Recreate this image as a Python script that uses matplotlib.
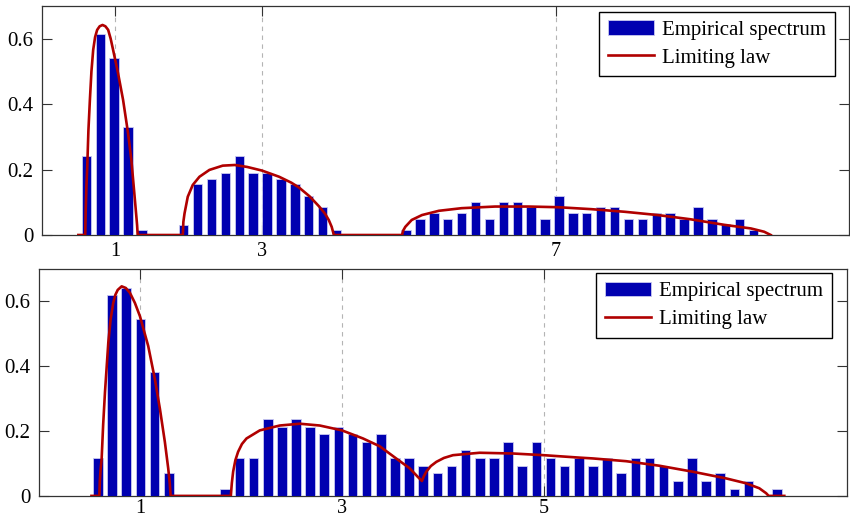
import numpy as np
import matplotlib.pyplot as plt

plt.rcParams['font.family'] = ['Liberation Serif', 'DejaVu Serif']

# ---- upper panel data ----
top_bin_start = 0.609
top_bin_width = 0.1893
top_heights = [0.242, 0.613, 0.542, 0.331, 0.015, 0.0, 0.0,
               0.031, 0.155, 0.171, 0.190, 0.242, 0.190, 0.189, 0.172, 0.155, 0.119, 0.085, 0.015,
               0.0, 0.0, 0.0, 0.0,
               0.015, 0.050, 0.066, 0.050, 0.066, 0.102, 0.050, 0.102, 0.102, 0.085, 0.050,
               0.119, 0.067, 0.067, 0.085, 0.085, 0.050, 0.050, 0.067, 0.067, 0.050, 0.085,
               0.050, 0.033, 0.050, 0.015]
top_law_x = [0.50, 0.593, 0.600, 0.610, 0.621, 0.637, 0.657, 0.678, 0.702, 0.728, 0.756,
             0.79, 0.829, 0.868, 0.906, 0.940, 0.973, 1.041,
             1.109, 1.177, 1.222, 1.258, 1.290, 1.300, 1.308,
             1.923, 1.930, 1.946, 1.99, 2.058, 2.149, 2.285, 2.466, 2.63, 2.80, 3.0, 3.235, 3.40,
             3.506, 3.65, 3.78, 3.86, 3.91, 3.95, 3.98,
             4.908, 4.925, 4.953, 5.04, 5.18, 5.41, 5.72, 6.175, 6.63, 7.03, 7.486, 7.94,
             8.39, 8.84, 9.30, 9.66, 9.84, 9.93]
top_law_y = [0.0, 0.0, 0.075, 0.150, 0.209, 0.320, 0.413, 0.500, 0.566, 0.605, 0.627,
             0.638, 0.642, 0.638, 0.627, 0.600, 0.566, 0.494,
             0.413, 0.311, 0.229, 0.138, 0.056, 0.030, 0.0,
             0.0, 0.040, 0.066, 0.117, 0.153, 0.178, 0.199, 0.212, 0.214, 0.208, 0.197, 0.178, 0.160,
             0.145, 0.118, 0.087, 0.065, 0.046, 0.025, 0.0,
             0.0, 0.014, 0.025, 0.046, 0.061, 0.074, 0.082, 0.087, 0.087, 0.085, 0.079, 0.071,
             0.061, 0.048, 0.031, 0.020, 0.010, 0.0]
top_xticks = [1, 3, 7]

# ---- lower panel data ----
bot_bin_start = 0.585
bot_bin_width = 0.140
bot_heights = [0.1175, 0.618, 0.642, 0.546, 0.381, 0.0695, 0.0, 0.0, 0.0,
               0.0226, 0.1175, 0.1175, 0.237, 0.212, 0.237, 0.212, 0.190, 0.212, 0.190,
               0.166, 0.190, 0.1175, 0.1175, 0.093, 0.0695, 0.093, 0.141, 0.1175, 0.1175,
               0.166, 0.093, 0.166, 0.1175, 0.093, 0.1175, 0.093, 0.1175, 0.0695, 0.1175,
               0.1175, 0.093, 0.046, 0.1175, 0.046, 0.0695, 0.0214, 0.046, 0.0, 0.0214]
bot_law_x = [0.52, 0.598, 0.603, 0.610, 0.621, 0.636, 0.654, 0.687, 0.710, 0.736, 0.757,
             0.78, 0.819, 0.86, 0.901, 0.950,
             1.0, 1.082, 1.148, 1.198, 1.247, 1.28, 1.295, 1.304,
             1.90, 1.91, 1.923, 1.945, 1.972, 2.010, 2.055, 2.187, 2.385, 2.583, 2.78, 3.0, 3.209,
             3.374, 3.539, 3.671, 3.753, 3.792, 3.810, 3.836, 3.880, 3.935, 4.010, 4.099,
             4.363, 4.693, 4.999, 5.352, 5.484, 5.814, 6.143, 6.473, 6.803, 7.0, 7.132, 7.2,
             7.225, 7.38]
bot_law_y = [0.0, 0.0, 0.045, 0.080, 0.115, 0.220, 0.320, 0.473, 0.545, 0.595, 0.620,
             0.635, 0.646, 0.641, 0.626, 0.595,
             0.554, 0.462, 0.360, 0.268, 0.166, 0.085, 0.040, 0.0,
             0.0, 0.04, 0.075, 0.110, 0.136, 0.160, 0.177, 0.202, 0.217, 0.2225, 0.217, 0.202,
             0.177, 0.153, 0.115, 0.085, 0.058, 0.046, 0.060, 0.075, 0.092, 0.105, 0.117,
             0.1255, 0.133, 0.1307, 0.1255, 0.118, 0.1155, 0.107, 0.093, 0.0746, 0.054, 0.039,
             0.0236, 0.0083, 0.0, 0.0]
bot_xticks = [1, 3, 5]

yticks = [0, 0.2, 0.4, 0.6]
ytick_labels = ['0', '0.2', '0.4', '0.6']

bar_color = '#0000b0'
law_color = '#b00000'
axis_color = '#333333'

fig = plt.figure(figsize=(8.5, 5.22), dpi=100)
ax_top = fig.add_axes([0.049, 0.5498, 0.9502, 0.4387])
ax_bot = fig.add_axes([0.0458, 0.0500, 0.9506, 0.4350])


def draw_panel(ax, start, width, heights, law_x, law_y, xmax, xticks, anchor, xpad):
    centers = start + width * np.arange(len(heights))
    bars = ax.bar(centers, heights, width=0.68 * width, color=bar_color,
                  edgecolor='#c8c8f0', linewidth=0.6, label='Empirical spectrum', zorder=3)
    line, = ax.plot(law_x, law_y, color=law_color, lw=1.9, label='Limiting law', zorder=4)

    ax.set_xlim(0, xmax)
    ax.set_ylim(0, 0.7)
    ax.set_xticks(xticks)
    ax.set_xticklabels([str(t) for t in xticks])
    ax.set_yticks(yticks)
    ax.set_yticklabels(ytick_labels)
    ax.tick_params(direction='in', top=True, right=True, length=7, width=0.8,
                   color=axis_color, labelsize=15)
    ax.tick_params(axis='y', pad=6)
    ax.tick_params(axis='x', pad=xpad, labelsize=14.5)
    ax.grid(axis='x', linestyle=(0, (4, 4)), color='#b4b4b4', lw=0.8)
    ax.set_axisbelow(True)
    for sp in ax.spines.values():
        sp.set_color(axis_color)
        sp.set_linewidth(0.9)

    leg = ax.legend([bars, line], ['Empirical spectrum', 'Limiting law'],
                    loc='upper right', bbox_to_anchor=anchor, borderaxespad=0,
                    fancybox=False, edgecolor='black', framealpha=1, fontsize=15,
                    handlelength=2.2, handletextpad=0.4, labelspacing=0.38,
                    borderpad=0.42)
    leg.get_frame().set_linewidth(1.0)


draw_panel(ax_top, top_bin_start, top_bin_width, top_heights, top_law_x, top_law_y,
           11, top_xticks, (0.982, 0.975), 5)
draw_panel(ax_bot, bot_bin_start, bot_bin_width, bot_heights, bot_law_x, bot_law_y,
           8, bot_xticks, (0.981, 0.981), 2)

fig.savefig('out.png', dpi=100)
